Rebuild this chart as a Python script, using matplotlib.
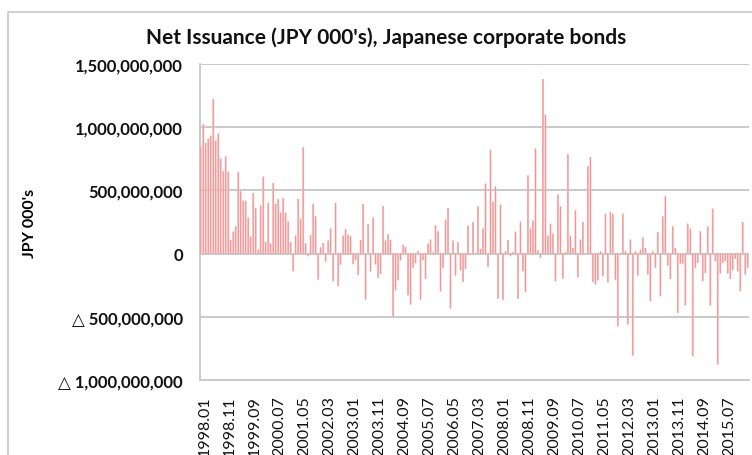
import matplotlib.pyplot as plt
from matplotlib.patches import Rectangle
from matplotlib.ticker import FuncFormatter
from matplotlib.transforms import ScaledTranslation

# monthly net issuance, JPY 000's (millions of the unit)
start_year, start_month = 1998, 1
net_issuance_m = [
    843, 1025, 875, 909, 933, 1223, 894, 949, 751, 651,
    770, 648, 108, 174, 216, 643, 493, 419, 416, 285,
    134, 480, 358, 32, 380, 609, 92, 401, 79, 559,
    395, 432, 324, 440, 324, 253, 92, -140, 142, 432,
    274, 841, 82, -21, 145, 395, 295, -206, 50, 84,
    -63, 103, 200, -219, 401, -258, -87, 142, 195, 150,
    137, -84, -53, -169, 108, 393, -364, 232, -142, 285,
    -87, -192, -161, 377, 103, 153, 108, -501, -290, -211,
    -53, 71, 53, -330, -403, -113, -76, 18, -364, -53,
    -200, 79, 111, 10, 224, 177, -298, -113, 269, 361,
    -435, 103, -174, 90, -132, -224, -121, 221, 5, 248,
    5, 374, 37, 200, 554, -105, 822, 409, 530, -358,
    387, -369, 18, 108, -21, 13, 174, -358, 253, -140,
    -303, 619, 198, 261, 830, 26, -34, 1381, 1099, 142,
    237, 158, -219, 467, 374, -198, 10, 788, 142, 45,
    343, -187, 111, 250, 5, 691, 764, -227, -245, -211,
    18, -179, 314, -227, 330, 314, -206, -575, 5, 316,
    18, -561, 111, -807, 18, -174, 32, 127, 45, -166,
    -377, 18, -113, 171, -337, 295, 453, -95, -200, 216,
    45, -469, -79, -79, -409, 237, 198, -812, -113, -74,
    177, -219, -153, 216, -411, 356, -61, -878, -158, -74,
    -61, -158, -200, -132, -42, -140, -298, 250, -166, -113,
]
values = [v * 1e6 for v in net_issuance_m]

months = []
for k in range(len(values)):
    y = start_year + (start_month - 1 + k) // 12
    m = (start_month - 1 + k) % 12 + 1
    months.append(f"{y}.{m:02d}")

yticks = [-1e9, -5e8, 0, 5e8, 1e9, 1.5e9]
title = "Net Issuance (JPY 000's), Japanese corporate bonds"
fonts = ['Lato', 'DejaVu Sans']
grid_col = '#c9c9c9'


def jp_fmt(v, pos):
    if v < 0:
        return '\u25b3 ' + f"{-v:,.0f}"
    return f"{v:,.0f}"


fig = plt.figure(figsize=(7.52, 4.56), dpi=100)
plt.rcParams['font.family'] = fonts

# outer chart border
fig.patches.append(Rectangle((8 / 752, -0.05), 1.2, 1 - 13 / 456 + 0.05,
                             transform=fig.transFigure, fill=False,
                             edgecolor=grid_col, linewidth=1.2))

ax = fig.add_axes([199.5 / 752, 1 - 381 / 456, 549.5 / 752, 316 / 456])
x = list(range(len(values)))
ax.bar(x, values, width=0.8, color='#f6c2c2', zorder=3, snap=False)
ax.bar(x, values, width=0.3, color='#ec8a8a', zorder=4, snap=False)

ax.set_xlim(-0.5, len(values) - 0.5)
ax.set_ylim(-1e9, 1.5e9)
ax.set_yticks(yticks)
ax.yaxis.set_major_formatter(FuncFormatter(jp_fmt))
ax.set_xticks(x[::10])
ax.set_xticklabels(months[::10], rotation=90, fontsize=11.5, color='#111111')
ax.tick_params(axis='x', length=0, pad=11)
ax.tick_params(axis='y', length=0, pad=12, labelsize=12)
# nudge the rotated date labels a few pixels right, as in the original
shift = ScaledTranslation(4 / 100, 0, fig.dpi_scale_trans)
for lab in ax.get_xticklabels():
    lab.set_transform(lab.get_transform() + shift)
for lab in ax.get_yticklabels():
    lab.set_fontweight('bold')
    lab.set_color('#111111')

ax.grid(axis='y', color=grid_col, linewidth=1.4, zorder=0)
ax.axhline(0, color=grid_col, linewidth=1.4, zorder=2)
for s in ['top', 'right']:
    ax.spines[s].set_visible(False)
ax.spines['left'].set_color(grid_col)
ax.spines['left'].set_linewidth(1.4)
ax.spines['bottom'].set_color(grid_col)
ax.spines['bottom'].set_linewidth(1.4)

ax.set_ylabel("JPY 000's", fontsize=11.5, fontweight='bold')
ax.yaxis.set_label_coords(-(199.5 - 37) / 549.5, 0.5)
fig.text(386 / 752, 1 - 38 / 456, title, ha='center', va='center',
         fontsize=15, fontweight='bold', color='#111111')

fig.savefig('out.png', dpi=100)
